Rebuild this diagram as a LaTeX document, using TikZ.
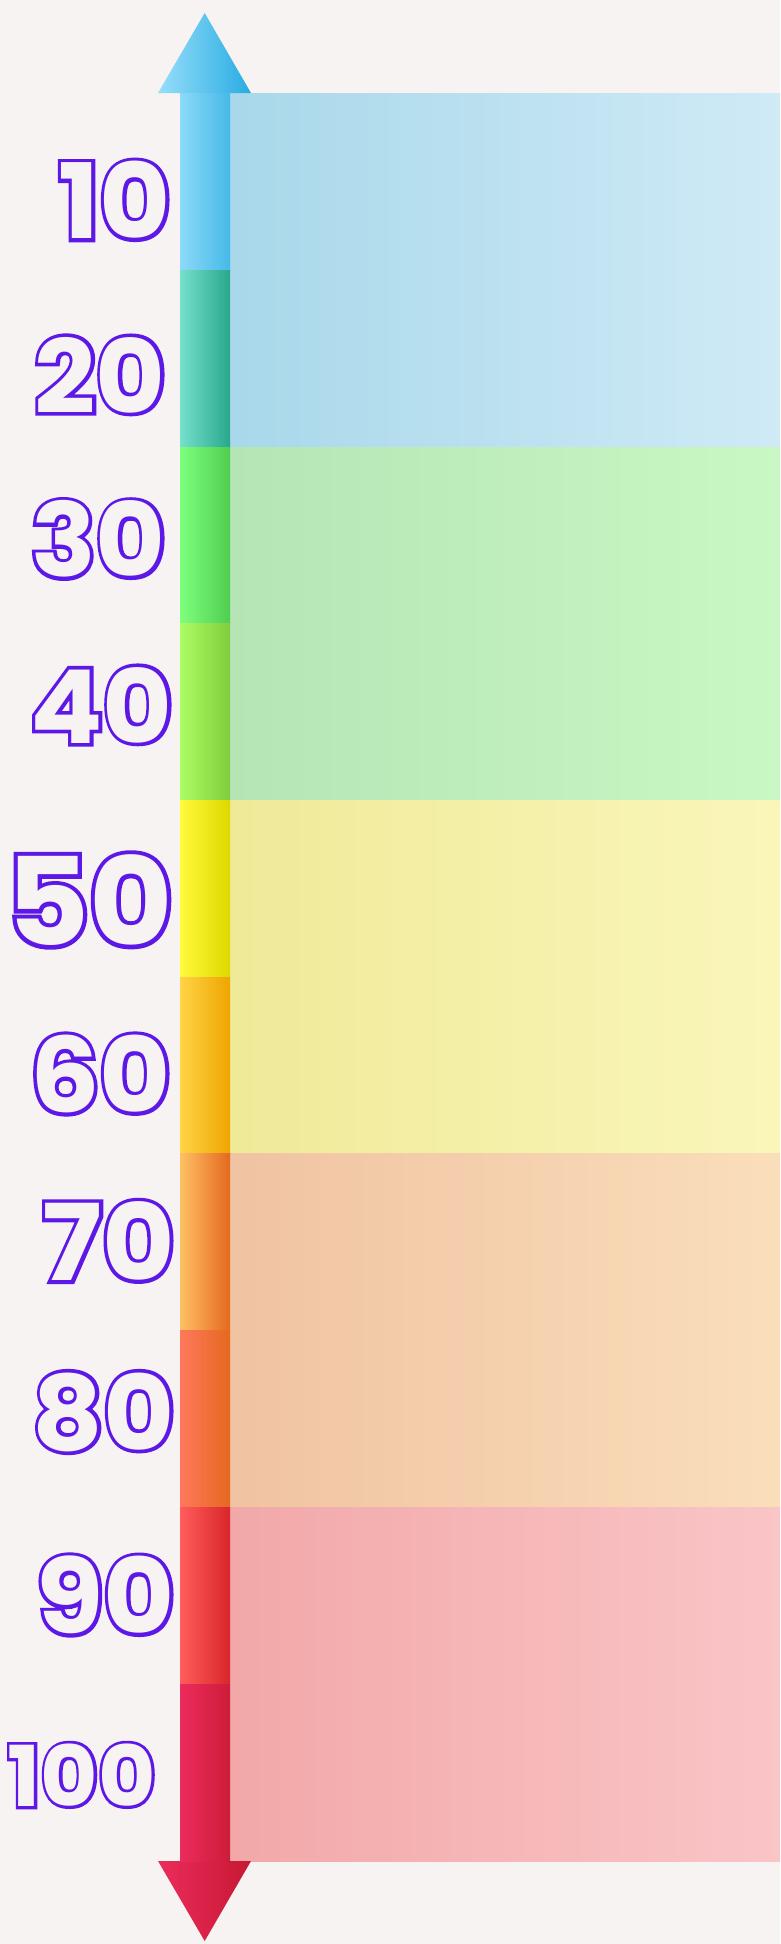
\documentclass[tikz,border=0pt]{standalone}
\usepackage{fontspec}
\newfontfamily\numfont{Poppins Bold}[FakeStretch=1.05]
\newfontfamily\numfontfat{Poppins Bold}[FakeStretch=1.05,FakeBold=7]
\definecolor{bg}{RGB}{247,243,242}
\definecolor{ink}{RGB}{93,24,232}
% shaft colours (left, right)
\definecolor{s1l}{RGB}{140,218,248}\definecolor{s1r}{RGB}{70,185,232}
\definecolor{s2l}{RGB}{118,224,204}\definecolor{s2r}{RGB}{40,168,140}
\definecolor{s3l}{RGB}{125,255,125}\definecolor{s3r}{RGB}{80,205,80}
\definecolor{s4l}{RGB}{172,252,100}\definecolor{s4r}{RGB}{128,205,60}
\definecolor{s5l}{RGB}{255,250,60}\definecolor{s5r}{RGB}{222,215,0}
\definecolor{s6l}{RGB}{255,212,70}\definecolor{s6r}{RGB}{238,165,0}
\definecolor{s7l}{RGB}{255,192,100}\definecolor{s7r}{RGB}{228,105,30}
\definecolor{s8l}{RGB}{255,120,92}\definecolor{s8r}{RGB}{228,105,30}
\definecolor{s9l}{RGB}{255,92,92}\definecolor{s9r}{RGB}{218,38,42}
\definecolor{s10l}{RGB}{236,44,92}\definecolor{s10r}{RGB}{205,28,58}
\definecolor{h1l}{RGB}{150,222,250}\definecolor{h1r}{RGB}{40,172,226}
\definecolor{h2l}{RGB}{236,44,92}\definecolor{h2r}{RGB}{198,24,50}
% panel colours
\definecolor{p1l}{RGB}{168,216,234}\definecolor{p1r}{RGB}{208,234,246}
\definecolor{p2l}{RGB}{181,229,181}\definecolor{p2r}{RGB}{201,248,196}
\definecolor{p3l}{RGB}{239,234,152}\definecolor{p3r}{RGB}{250,246,186}
\definecolor{p4l}{RGB}{240,195,162}\definecolor{p4r}{RGB}{250,222,186}
\definecolor{p5l}{RGB}{242,168,168}\definecolor{p5r}{RGB}{250,197,199}
\tikzset{
  ringtext/.style={text=ink, inner sep=0pt, anchor=east},
  filltext/.style={text=bg, inner sep=0pt, anchor=east}
}
\newcommand{\numlabel}[5]{%
  \node[ringtext, font=\numfontfat\fontsize{#4}{#4}\selectfont] (#1) at (#2,#3) {#5};
  \node[filltext, font=\numfont\fontsize{#4}{#4}\selectfont] (#1-in) at (#2,#3) {#5};
}
\begin{document}
\begin{tikzpicture}[x=1pt,y=-1pt]
\useasboundingbox (0,0) rectangle (780,1944);
\fill[bg] (0,0) rectangle (780,1944);
% panels
\shade[left color=p1l, right color=p1r] (230,93) rectangle (780,447);
\shade[left color=p2l, right color=p2r] (230,447) rectangle (780,800);
\shade[left color=p3l, right color=p3r] (230,800) rectangle (780,1153);
\shade[left color=p4l, right color=p4r] (230,1153) rectangle (780,1507);
\shade[left color=p5l, right color=p5r] (230,1507) rectangle (780,1861);
% arrow heads
\shade[left color=h1l, middle color=h1l!75!h1r, right color=h1r] (158,93) -- (204.7,13) -- (251,93) -- cycle;
\shade[left color=h2l, middle color=h2l, right color=h2r] (158,1861) -- (204.7,1941) -- (251,1861) -- cycle;
% shaft segments
\foreach \i/\ya/\yb in {1/93/270, 2/270/447, 3/447/623, 4/623/800, 5/800/977, 6/977/1153, 7/1153/1330, 8/1330/1507, 9/1507/1684, 10/1684/1861}{
  \shade[left color=s\i l, middle color=s\i l!70!s\i r, right color=s\i r] (180,\ya) rectangle (230,\yb);
}
% labels
\numlabel{l10}{171}{200}{104}{10}
\numlabel{l20}{166}{375}{102}{20}
\numlabel{l30}{166}{539}{102}{30}
\numlabel{l40}{173}{705}{102}{40}
\numlabel{l50}{173}{900}{122}{50}
\numlabel{l60}{171}{1074}{104}{60}
\numlabel{l70}{175}{1241}{106}{70}
\numlabel{l80}{175}{1412}{104}{80}
\numlabel{l90}{175}{1595}{104}{90}
\numlabel{l100}{156}{1775}{84}{100}
\end{tikzpicture}
\end{document}
